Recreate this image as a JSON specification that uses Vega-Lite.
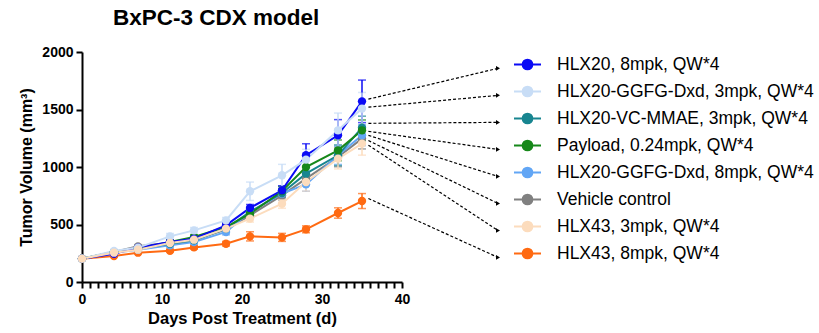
{
  "$schema": "https://vega.github.io/schema/vega-lite/v6.json",
  "width": 320,
  "height": 230,
  "autosize": "none",
  "padding": {"left": 82, "top": 52, "right": 417, "bottom": 51},
  "background": "white",
  "config": {
    "font": "Liberation Sans",
    "view": {"stroke": null},
    "axis": {"domainColor": "black", "domainWidth": 2, "tickColor": "black", "tickWidth": 2, "labelColor": "black", "titleColor": "black", "grid": false, "labelFont": "Liberation Sans", "titleFont": "Liberation Sans"}
  },
  "title": {"text": "BxPC-3 CDX model", "fontSize": 22.5, "fontWeight": "bold", "font": "Liberation Sans", "anchor": "start", "frame": "group", "dx": 31, "offset": 16, "color": "black"},
  "datasets": {
    "main": [
      {"group": "HLX43, 8mpk, QW*4", "day": 0, "mean": 203, "sd": 5},
      {"group": "HLX43, 8mpk, QW*4", "day": 4, "mean": 226, "sd": 8},
      {"group": "HLX43, 8mpk, QW*4", "day": 7, "mean": 255, "sd": 10},
      {"group": "HLX43, 8mpk, QW*4", "day": 11, "mean": 272, "sd": 12},
      {"group": "HLX43, 8mpk, QW*4", "day": 14, "mean": 301, "sd": 15},
      {"group": "HLX43, 8mpk, QW*4", "day": 18, "mean": 333, "sd": 20},
      {"group": "HLX43, 8mpk, QW*4", "day": 21, "mean": 397, "sd": 40},
      {"group": "HLX43, 8mpk, QW*4", "day": 25, "mean": 388, "sd": 35},
      {"group": "HLX43, 8mpk, QW*4", "day": 28, "mean": 458, "sd": 30},
      {"group": "HLX43, 8mpk, QW*4", "day": 32, "mean": 600, "sd": 45},
      {"group": "HLX43, 8mpk, QW*4", "day": 35, "mean": 704, "sd": 65},
      {"group": "Vehicle control", "day": 0, "mean": 203, "sd": 5},
      {"group": "Vehicle control", "day": 4, "mean": 262, "sd": 10},
      {"group": "Vehicle control", "day": 7, "mean": 310, "sd": 12},
      {"group": "Vehicle control", "day": 11, "mean": 342, "sd": 15},
      {"group": "Vehicle control", "day": 14, "mean": 368, "sd": 20},
      {"group": "Vehicle control", "day": 18, "mean": 455, "sd": 25},
      {"group": "Vehicle control", "day": 21, "mean": 580, "sd": 30},
      {"group": "Vehicle control", "day": 25, "mean": 754, "sd": 40},
      {"group": "Vehicle control", "day": 28, "mean": 899, "sd": 60},
      {"group": "Vehicle control", "day": 32, "mean": 1087, "sd": 85},
      {"group": "Vehicle control", "day": 35, "mean": 1247, "sd": 90},
      {"group": "HLX20-GGFG-Dxd, 8mpk, QW*4", "day": 0, "mean": 203, "sd": 5},
      {"group": "HLX20-GGFG-Dxd, 8mpk, QW*4", "day": 4, "mean": 255, "sd": 10},
      {"group": "HLX20-GGFG-Dxd, 8mpk, QW*4", "day": 7, "mean": 281, "sd": 12},
      {"group": "HLX20-GGFG-Dxd, 8mpk, QW*4", "day": 11, "mean": 319, "sd": 15},
      {"group": "HLX20-GGFG-Dxd, 8mpk, QW*4", "day": 14, "mean": 348, "sd": 20},
      {"group": "HLX20-GGFG-Dxd, 8mpk, QW*4", "day": 18, "mean": 435, "sd": 25},
      {"group": "HLX20-GGFG-Dxd, 8mpk, QW*4", "day": 21, "mean": 609, "sd": 30},
      {"group": "HLX20-GGFG-Dxd, 8mpk, QW*4", "day": 25, "mean": 768, "sd": 40},
      {"group": "HLX20-GGFG-Dxd, 8mpk, QW*4", "day": 28, "mean": 849, "sd": 60},
      {"group": "HLX20-GGFG-Dxd, 8mpk, QW*4", "day": 32, "mean": 1102, "sd": 80},
      {"group": "HLX20-GGFG-Dxd, 8mpk, QW*4", "day": 35, "mean": 1276, "sd": 90},
      {"group": "HLX20-VC-MMAE, 3mpk, QW*4", "day": 0, "mean": 203, "sd": 5},
      {"group": "HLX20-VC-MMAE, 3mpk, QW*4", "day": 4, "mean": 258, "sd": 10},
      {"group": "HLX20-VC-MMAE, 3mpk, QW*4", "day": 7, "mean": 290, "sd": 12},
      {"group": "HLX20-VC-MMAE, 3mpk, QW*4", "day": 11, "mean": 333, "sd": 15},
      {"group": "HLX20-VC-MMAE, 3mpk, QW*4", "day": 14, "mean": 362, "sd": 20},
      {"group": "HLX20-VC-MMAE, 3mpk, QW*4", "day": 18, "mean": 464, "sd": 25},
      {"group": "HLX20-VC-MMAE, 3mpk, QW*4", "day": 21, "mean": 609, "sd": 35},
      {"group": "HLX20-VC-MMAE, 3mpk, QW*4", "day": 25, "mean": 774, "sd": 40},
      {"group": "HLX20-VC-MMAE, 3mpk, QW*4", "day": 28, "mean": 942, "sd": 60},
      {"group": "HLX20-VC-MMAE, 3mpk, QW*4", "day": 32, "mean": 1102, "sd": 90},
      {"group": "HLX20-VC-MMAE, 3mpk, QW*4", "day": 35, "mean": 1342, "sd": 100},
      {"group": "Payload, 0.24mpk, QW*4", "day": 0, "mean": 203, "sd": 5},
      {"group": "Payload, 0.24mpk, QW*4", "day": 4, "mean": 262, "sd": 10},
      {"group": "Payload, 0.24mpk, QW*4", "day": 7, "mean": 290, "sd": 12},
      {"group": "Payload, 0.24mpk, QW*4", "day": 11, "mean": 348, "sd": 15},
      {"group": "Payload, 0.24mpk, QW*4", "day": 14, "mean": 391, "sd": 20},
      {"group": "Payload, 0.24mpk, QW*4", "day": 18, "mean": 478, "sd": 25},
      {"group": "Payload, 0.24mpk, QW*4", "day": 21, "mean": 594, "sd": 30},
      {"group": "Payload, 0.24mpk, QW*4", "day": 25, "mean": 791, "sd": 40},
      {"group": "Payload, 0.24mpk, QW*4", "day": 28, "mean": 1000, "sd": 60},
      {"group": "Payload, 0.24mpk, QW*4", "day": 32, "mean": 1145, "sd": 90},
      {"group": "Payload, 0.24mpk, QW*4", "day": 35, "mean": 1319, "sd": 90},
      {"group": "HLX20, 8mpk, QW*4", "day": 0, "mean": 203, "sd": 5},
      {"group": "HLX20, 8mpk, QW*4", "day": 4, "mean": 246, "sd": 10},
      {"group": "HLX20, 8mpk, QW*4", "day": 7, "mean": 299, "sd": 12},
      {"group": "HLX20, 8mpk, QW*4", "day": 11, "mean": 348, "sd": 15},
      {"group": "HLX20, 8mpk, QW*4", "day": 14, "mean": 377, "sd": 20},
      {"group": "HLX20, 8mpk, QW*4", "day": 18, "mean": 493, "sd": 25},
      {"group": "HLX20, 8mpk, QW*4", "day": 21, "mean": 644, "sd": 30},
      {"group": "HLX20, 8mpk, QW*4", "day": 25, "mean": 797, "sd": 40},
      {"group": "HLX20, 8mpk, QW*4", "day": 28, "mean": 1102, "sd": 100},
      {"group": "HLX20, 8mpk, QW*4", "day": 32, "mean": 1276, "sd": 136},
      {"group": "HLX20, 8mpk, QW*4", "day": 35, "mean": 1571, "sd": 185},
      {"group": "HLX20-GGFG-Dxd, 3mpk, QW*4", "day": 0, "mean": 203, "sd": 5},
      {"group": "HLX20-GGFG-Dxd, 3mpk, QW*4", "day": 4, "mean": 270, "sd": 12},
      {"group": "HLX20-GGFG-Dxd, 3mpk, QW*4", "day": 7, "mean": 299, "sd": 15},
      {"group": "HLX20-GGFG-Dxd, 3mpk, QW*4", "day": 11, "mean": 397, "sd": 25},
      {"group": "HLX20-GGFG-Dxd, 3mpk, QW*4", "day": 14, "mean": 449, "sd": 25},
      {"group": "HLX20-GGFG-Dxd, 3mpk, QW*4", "day": 18, "mean": 536, "sd": 25},
      {"group": "HLX20-GGFG-Dxd, 3mpk, QW*4", "day": 21, "mean": 789, "sd": 80},
      {"group": "HLX20-GGFG-Dxd, 3mpk, QW*4", "day": 25, "mean": 928, "sd": 95},
      {"group": "HLX20-GGFG-Dxd, 3mpk, QW*4", "day": 28, "mean": 1064, "sd": 90},
      {"group": "HLX20-GGFG-Dxd, 3mpk, QW*4", "day": 32, "mean": 1319, "sd": 150},
      {"group": "HLX20-GGFG-Dxd, 3mpk, QW*4", "day": 35, "mean": 1508, "sd": 140},
      {"group": "HLX43, 3mpk, QW*4", "day": 0, "mean": 203, "sd": 5},
      {"group": "HLX43, 3mpk, QW*4", "day": 4, "mean": 255, "sd": 10},
      {"group": "HLX43, 3mpk, QW*4", "day": 7, "mean": 281, "sd": 12},
      {"group": "HLX43, 3mpk, QW*4", "day": 11, "mean": 339, "sd": 15},
      {"group": "HLX43, 3mpk, QW*4", "day": 14, "mean": 368, "sd": 20},
      {"group": "HLX43, 3mpk, QW*4", "day": 18, "mean": 464, "sd": 25},
      {"group": "HLX43, 3mpk, QW*4", "day": 21, "mean": 551, "sd": 30},
      {"group": "HLX43, 3mpk, QW*4", "day": 25, "mean": 681, "sd": 40},
      {"group": "HLX43, 3mpk, QW*4", "day": 28, "mean": 870, "sd": 80},
      {"group": "HLX43, 3mpk, QW*4", "day": 32, "mean": 1073, "sd": 90},
      {"group": "HLX43, 3mpk, QW*4", "day": 35, "mean": 1203, "sd": 100}
    ],
    "arrows": [
      {"group": "HLX20, 8mpk, QW*4", "from": 1590, "to": 1858},
      {"group": "HLX20-GGFG-Dxd, 3mpk, QW*4", "from": 1520, "to": 1623},
      {"group": "HLX20-VC-MMAE, 3mpk, QW*4", "from": 1380, "to": 1388},
      {"group": "Payload, 0.24mpk, QW*4", "from": 1310, "to": 1153},
      {"group": "HLX20-GGFG-Dxd, 8mpk, QW*4", "from": 1275, "to": 918},
      {"group": "Vehicle control", "from": 1230, "to": 683},
      {"group": "HLX43, 3mpk, QW*4", "from": 1190, "to": 448},
      {"group": "HLX43, 8mpk, QW*4", "from": 726, "to": 214}
    ]
  },
  "layer": [
    {
      "data": {"name": "main"},
      "encoding": {
        "x": {"field": "day", "type": "quantitative", "scale": {"domain": [0, 40], "nice": false},
              "axis": {"values": [0,1,2,3,4,5,6,7,8,9,10,11,12,13,14,15,16,17,18,19,20,21,22,23,24,25,26,27,28,29,30,31,32,33,34,35,36,37,38,39,40], "tickCount": 41,
                       "labelExpr": "datum.value % 10 === 0 ? datum.label : ''", "tickSize": 6, "labelFontSize": 14, "labelFontWeight": "bold", "labelPadding": 4, "labelOverlap": false, "labelFlush": false, "title": "Days Post Treatment (d)", "titleFontSize": 16.5, "titleFontWeight": "bold", "titlePadding": 4,
                       "encode": {"ticks": {"update": {"y2": {"signal": "datum.value % 10 === 0 ? 6 : 3"}, "strokeWidth": {"signal": "datum.value % 10 === 0 ? 2 : 1.2"}}}}}},
        "color": {"field": "group", "type": "nominal",
          "scale": {
            "domain": ["HLX20, 8mpk, QW*4", "HLX20-GGFG-Dxd, 3mpk, QW*4", "HLX20-VC-MMAE, 3mpk, QW*4", "Payload, 0.24mpk, QW*4", "HLX20-GGFG-Dxd, 8mpk, QW*4", "Vehicle control", "HLX43, 3mpk, QW*4", "HLX43, 8mpk, QW*4"],
            "range": ["#0a0af5", "#c8ddf6", "#188590", "#17881a", "#62a6f5", "#808080", "#fcdcbd", "#ff6a12"]
          },
          "legend": {
            "orient": "none", "legendX": 431, "legendY": -2, "title": null,
            "symbolType": "M-1,0L1,0M-0.36,0A0.36,0.36,0,1,1,0.36,0A0.36,0.36,0,1,1,-0.36,0Z",
            "symbolSize": 729, "symbolStrokeWidth": 2, "symbolOpacity": 1,
            "labelFontSize": 17.5, "labelFont": "Liberation Sans", "labelColor": "black", "labelOffset": 15, "rowPadding": 3, "labelLimit": 400,
            "encode": {"symbols": {"update": {"fill": {"scale": "color", "field": "value"}, "stroke": {"scale": "color", "field": "value"}, "fillOpacity": {"value": 1}, "strokeOpacity": {"value": 1}}}}
          }
        }
      },
      "layer": [
        {
          "mark": {"type": "errorbar", "ticks": {"size": 8, "thickness": 1.5}, "thickness": 1.5},
          "encoding": {
            "y": {"field": "mean", "type": "quantitative", "scale": {"domain": [0, 2000], "nice": false},
                  "axis": {"values": [0, 500, 1000, 1500, 2000], "format": "d", "tickSize": 6, "labelFontSize": 14, "labelFontWeight": "bold", "labelPadding": 3, "title": "Tumor Volume (mm³)", "titleFontSize": 16, "titleFontWeight": "bold", "titlePadding": 7}},
            "yError": {"field": "sd"}
          }
        },
        {
          "mark": {"type": "line", "strokeWidth": 2},
          "encoding": {"y": {"field": "mean", "type": "quantitative"}}
        },
        {
          "mark": {"type": "point", "filled": true, "size": 70, "opacity": 1},
          "encoding": {"y": {"field": "mean", "type": "quantitative"}}
        }
      ]
    },
    {
      "data": {"name": "arrows"},
      "layer": [
        {
          "mark": {"type": "rule", "strokeDash": [3, 2], "strokeWidth": 1.2, "color": "black", "clip": false},
          "encoding": {
            "x": {"datum": 35.8, "type": "quantitative",
                  "axis": {"values": [0,1,2,3,4,5,6,7,8,9,10,11,12,13,14,15,16,17,18,19,20,21,22,23,24,25,26,27,28,29,30,31,32,33,34,35,36,37,38,39,40], "tickCount": 41,
                       "labelExpr": "datum.value % 10 === 0 ? datum.label : ''", "tickSize": 6, "labelFontSize": 14, "labelFontWeight": "bold", "labelPadding": 4, "labelOverlap": false, "labelFlush": false, "title": "Days Post Treatment (d)", "titleFontSize": 16.5, "titleFontWeight": "bold", "titlePadding": 4,
                       "encode": {"ticks": {"update": {"y2": {"signal": "datum.value % 10 === 0 ? 6 : 3"}, "strokeWidth": {"signal": "datum.value % 10 === 0 ? 2 : 1.2"}}}}}},
            "x2": {"datum": 52.0},
            "y": {"field": "from", "type": "quantitative",
                  "axis": {"values": [0, 500, 1000, 1500, 2000], "format": "d", "tickSize": 6, "labelFontSize": 14, "labelFontWeight": "bold", "labelPadding": 3, "title": "Tumor Volume (mm³)", "titleFontSize": 16, "titleFontWeight": "bold", "titlePadding": 7}},
            "y2": {"field": "to"}
          }
        },
        {
          "mark": {"type": "point", "shape": "triangle-right", "filled": true, "color": "black", "size": 22, "opacity": 1, "clip": false},
          "encoding": {
            "x": {"datum": 52.0, "type": "quantitative"},
            "y": {"field": "to", "type": "quantitative"}
          }
        }
      ]
    }
  ]
}
